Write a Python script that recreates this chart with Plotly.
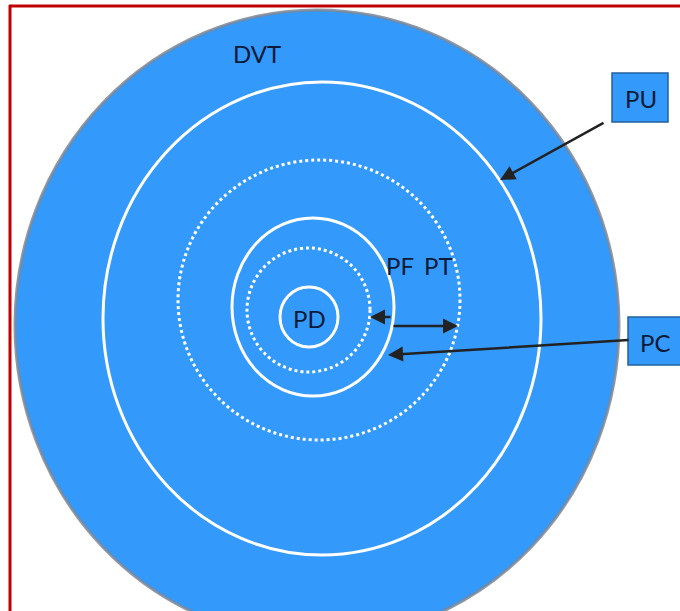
import plotly.graph_objects as go

# Ring outlines: name, left, right, top, bottom (in picture units), style
ring_names = ["DVT", "PU", "PT", "PC", "PF", "PD"]
ring_left = [15, 103, 178, 232, 247, 280]
ring_right = [619, 541, 460, 394, 370, 338]
ring_top = [10, 82, 160, 218, 248, 287]
ring_bottom = [640, 555, 440, 396, 372, 347]
ring_dash = [None, "solid", "dot", "solid", "dot", "solid"]

# Text labels
label_text = ["DVT", "PF", "PT", "PD"]
label_x = [257, 400, 438, 309]
label_y = [53, 265, 265, 318]

# Boxed labels
box_text = ["PU", "PC"]
box_x0 = [612, 628]
box_x1 = [668, 690]
box_y0 = [73, 317]
box_y1 = [122, 365]

# Arrows: tail -> head
arrow_tail_x = [605, 630, 392, 392]
arrow_tail_y = [122, 340, 317, 326]
arrow_head_x = [500, 388, 370, 458]
arrow_head_y = [180, 355, 317, 326]

BLUE = "#3399fb"
NAVY = "#0d1a36"
FONT = "Lato, Open Sans, sans-serif"

fig = go.Figure()
fig.add_trace(go.Scatter(x=[0, 680], y=[0, 611], mode="markers",
                         marker=dict(opacity=0), hoverinfo="skip", showlegend=False))

shapes = []
for i, name in enumerate(ring_names):
    if i == 0:
        shapes.append(dict(type="circle", xref="x", yref="y",
                           x0=ring_left[i], x1=ring_right[i], y0=ring_top[i], y1=ring_bottom[i],
                           fillcolor=BLUE, line=dict(color="rgba(125,135,150,0.85)", width=3),
                           layer="below"))
    else:
        shapes.append(dict(type="circle", xref="x", yref="y",
                           x0=ring_left[i], x1=ring_right[i], y0=ring_top[i], y1=ring_bottom[i],
                           line=dict(color="white", width=3, dash=ring_dash[i])))

for i, t in enumerate(box_text):
    shapes.append(dict(type="rect", xref="x", yref="y",
                       x0=box_x0[i], x1=box_x1[i], y0=box_y0[i], y1=box_y1[i],
                       fillcolor=BLUE, line=dict(color="#23609e", width=1.5)))

# red frame
shapes.append(dict(type="line", xref="x", yref="y", x0=9, x1=680, y0=6, y1=6,
                   line=dict(color="#c00000", width=3)))
shapes.append(dict(type="line", xref="x", yref="y", x0=10, x1=10, y0=5, y1=611,
                   line=dict(color="#c00000", width=3)))

annotations = []
for i, t in enumerate(label_text):
    annotations.append(dict(x=label_x[i], y=label_y[i], xref="x", yref="y", text=t,
                            showarrow=False, font=dict(family=FONT, size=24, color=NAVY)))
for i, t in enumerate(box_text):
    annotations.append(dict(x=(box_x0[i] + min(box_x1[i], 680)) / 2 + 1,
                            y=(box_y0[i] + box_y1[i]) / 2 + 1, xref="x", yref="y", text=t,
                            showarrow=False, font=dict(family=FONT, size=24, color=NAVY)))
for i in range(len(arrow_tail_x)):
    annotations.append(dict(x=arrow_head_x[i], y=arrow_head_y[i], ax=arrow_tail_x[i], ay=arrow_tail_y[i],
                            xref="x", yref="y", axref="x", ayref="y", text="",
                            showarrow=True, arrowhead=2, arrowsize=1.2, arrowwidth=2.5,
                            arrowcolor="#222222"))

fig.update_layout(
    width=680, height=611,
    margin=dict(l=0, r=0, t=0, b=0),
    paper_bgcolor="white", plot_bgcolor="white",
    xaxis=dict(range=[0, 680], visible=False, fixedrange=True),
    yaxis=dict(range=[611, 0], visible=False, fixedrange=True),
    shapes=shapes, annotations=annotations, showlegend=False,
)
fig.write_html("out.html", config={"displayModeBar": False},
               post_script="document.body.style.margin='0';document.body.style.padding='0';document.body.style.overflow='hidden';")
